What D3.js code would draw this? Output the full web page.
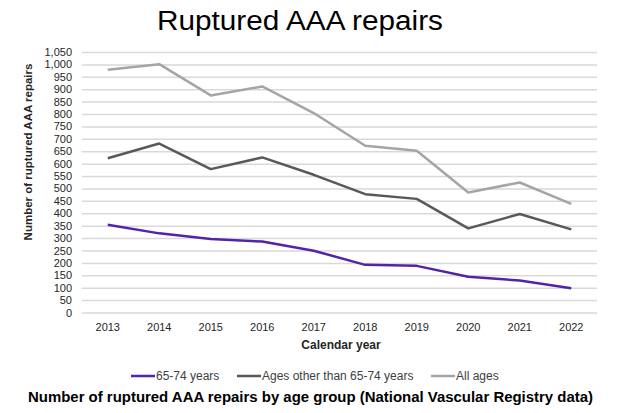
<!DOCTYPE html>
<html>
<head>
<meta charset="utf-8">
<script src="https://cdn.jsdelivr.net/npm/d3@7"></script>
<style>
  body { margin: 0; background: #fff; }
  svg { font-family: "Liberation Sans", Arial, sans-serif; }
  .grid line { stroke: #d9d9d9; stroke-width: 1.5; }
  .grid .domain { display: none; }
  .axis .domain { display: none; }
  .axis line { display: none; }
  .axis text { fill: #262626; font-size: 11px; }
</style>
</head>
<body>
<svg width="620" height="413"></svg>
<script>
// dados
const anos = ["2013", "2014", "2015", "2016", "2017", "2018", "2019", "2020", "2021", "2022"];
const idade_65_74 = [354, 319, 296, 286, 249, 192, 188, 144, 129, 98];
const outras_idades = [622, 681, 578, 625, 555, 477, 458, 339, 397, 335];
const todas_idades = [978, 1001, 875, 911, 804, 672, 652, 484, 524, 438];
const nomes_series = ["65-74 years", "Ages other than 65-74 years", "All ages"];
const cores = ["#5324a8", "#595959", "#a5a5a5"];

const series = [idade_65_74, outras_idades, todas_idades];

const svg = d3.select("svg");
const margin = { top: 52, right: 23, bottom: 100, left: 82 };
const w = 620, h = 413;

const x = d3.scaleBand()
    .domain(anos)
    .range([margin.left, w - margin.right]);

const y = d3.scaleLinear()
    .domain([0, 1050])
    .range([312.5, margin.top]);

// titulo
svg.append("text")
    .attr("x", 300).attr("y", 30)
    .attr("text-anchor", "middle")
    .attr("font-size", "27px")
    .attr("textLength", 286)
    .attr("lengthAdjust", "spacingAndGlyphs")
    .attr("fill", "#000")
    .text("Ruptured AAA repairs");

// grade
svg.append("g")
    .attr("class", "grid")
    .attr("transform", "translate(" + margin.left + ",0)")
    .call(d3.axisLeft(y).tickValues(d3.range(0, 1051, 50)).tickSize(-(w - margin.right - margin.left)).tickFormat(""));

// eixo y
svg.append("g")
    .attr("class", "axis")
    .attr("transform", "translate(" + (margin.left - 7) + ",0)")
    .call(d3.axisLeft(y).tickValues(d3.range(0, 1051, 50)).tickSize(0).tickFormat(d3.format(",")));

// eixo x
svg.append("g")
    .attr("class", "axis")
    .attr("transform", "translate(0,320)")
    .call(d3.axisBottom(x).tickSize(0))
    .selectAll("text").attr("dy", "0.71em");

svg.append("text")
    .attr("transform", "translate(32,152) rotate(-90)")
    .attr("text-anchor", "middle")
    .attr("font-size", "11.5px")
    .attr("font-weight", "bold")
    .attr("fill", "#262626")
    .text("Number of ruptured AAA repairs");

svg.append("text")
    .attr("x", 341).attr("y", 349)
    .attr("text-anchor", "middle")
    .attr("font-size", "12px")
    .attr("font-weight", "bold")
    .attr("fill", "#262626")
    .text("Calendar year");

const linha = d3.line()
    .x((d, i) => x(anos[i]) + x.bandwidth() / 2)
    .y(d => y(d));

// desenha todas, a mais clara primeiro
[2, 1, 0].forEach(function(k) {
    svg.append("path")
        .datum(series[k])
        .attr("fill", "none")
        .attr("stroke", cores[k])
        .attr("stroke-width", 2.5)
        .attr("stroke-linejoin", "round")
        .attr("d", linha);
});

// legenda
const pos_legenda = [131, 237, 431];
const legenda = svg.append("g");
nomes_series.forEach(function(nome, i) {
    legenda.append("line")
        .attr("x1", pos_legenda[i]).attr("x2", pos_legenda[i] + 24)
        .attr("y1", 376).attr("y2", 376)
        .attr("stroke", cores[i]).attr("stroke-width", 2.5);
    legenda.append("text")
        .attr("x", pos_legenda[i] + 25).attr("y", 380)
        .attr("font-size", "12px")
        .attr("fill", "#404040")
        .text(nome);
});

svg.append("text")
    .attr("x", 310.5).attr("y", 402)
    .attr("text-anchor", "middle")
    .attr("font-size", "14px")
    .attr("font-weight", "bold")
    .attr("textLength", 565)
    .attr("lengthAdjust", "spacingAndGlyphs")
    .attr("fill", "#000")
    .text("Number of ruptured AAA repairs by age group (National Vascular Registry data)");
</script>
</body>
</html>
